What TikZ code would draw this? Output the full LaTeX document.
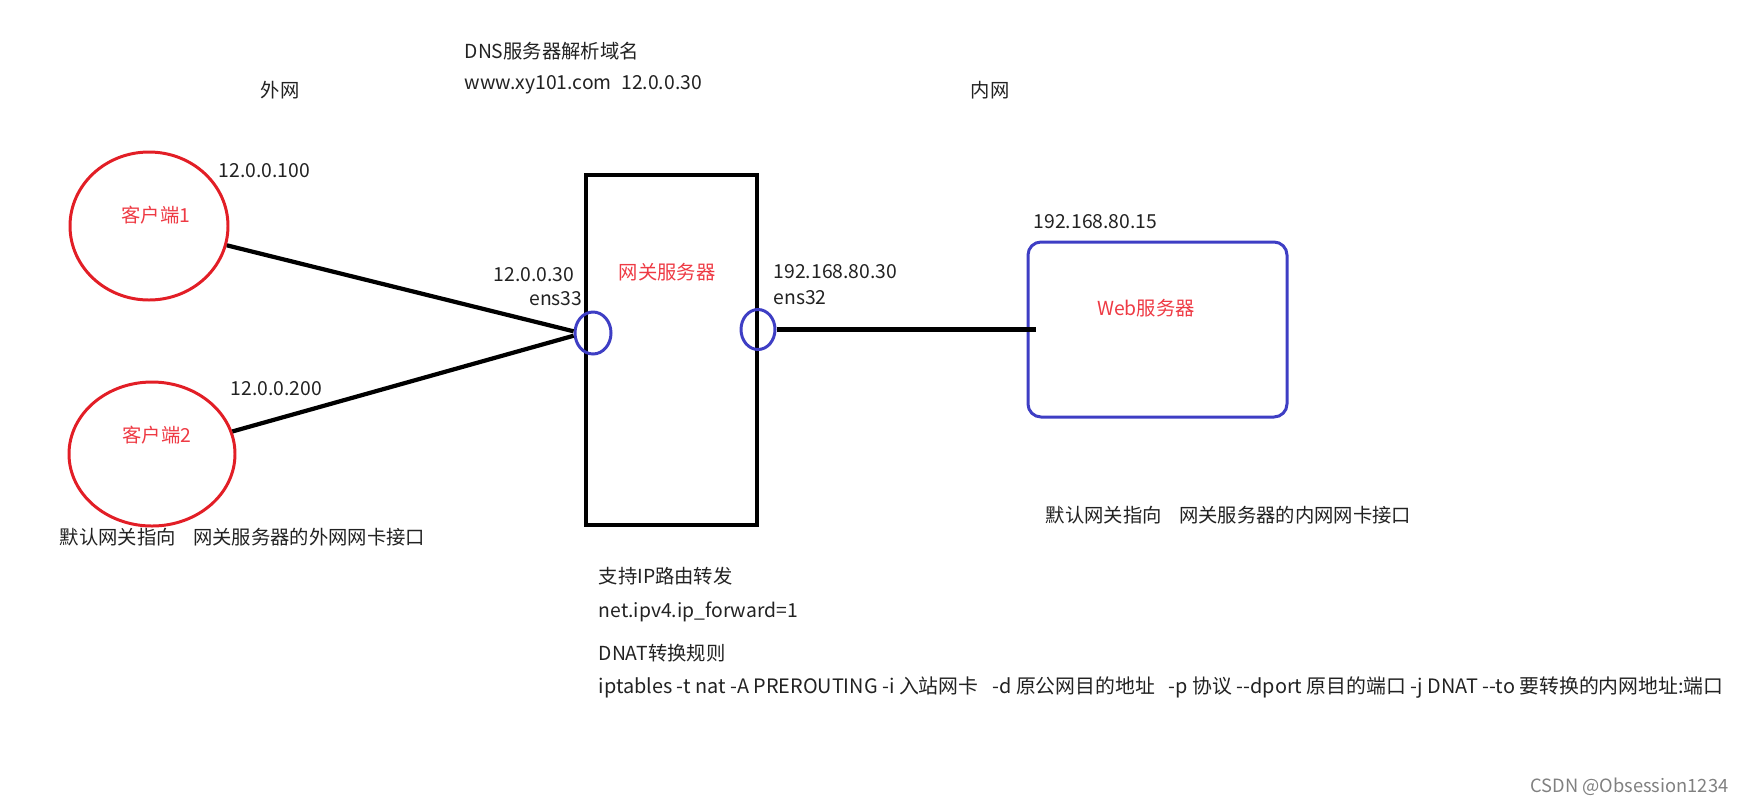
\documentclass[tikz,border=0pt]{standalone}
\usepackage{fontspec}
\setmainfont{Noto Sans CJK SC}
\usetikzlibrary{shapes.geometric}
\definecolor{clientred}{RGB}{226,30,38}
\definecolor{labelred}{RGB}{238,58,68}
\definecolor{nicblue}{RGB}{62,62,196}
\definecolor{txtgray}{RGB}{34,34,34}
\begin{document}
\begin{tikzpicture}[
    every node/.style={font=\fontsize{5.5}{6.6}\selectfont, text=txtgray, inner sep=0pt},
    txt/.style={anchor=west},
    redtxt/.style={text=labelred},
    client/.style={draw=clientred, ellipse, line width=0.85pt},
    nic/.style={draw=nicblue, ellipse, line width=0.85pt, minimum width=0.36cm, minimum height=0.42cm},
    link/.style={line width=1.2pt, black}
]
    \useasboundingbox (0,0) rectangle (17.44,8.04);

    % DNS
    \node[txt] (dns) at (4.64,7.53) {DNS服务器解析域名};
    \node[txt] (domain) at (4.64,7.19) {www.xy101.com\hspace{0.5em}12.0.0.30};

    % Zones
    \node (wan) at (2.80,7.14) {外网};
    \node (lan) at (9.90,7.14) {内网};

    % Clients
    \node[client, minimum width=1.58cm, minimum height=1.48cm] (c1) at (1.49,5.78) {};
    \node[redtxt] at (1.56,5.89) {客户端1};
    \node[txt] (ipc1) at (2.18,6.33) {12.0.0.100};
    \node[client, minimum width=1.66cm, minimum height=1.44cm] (c2) at (1.52,3.50) {};
    \node[redtxt] at (1.57,3.69) {客户端2};
    \node[txt] (ipc2) at (2.30,4.15) {12.0.0.200};
    \node[txt] (gwwan) at (0.59,2.67) {默认网关指向\hspace{0.9em}网关服务器的外网网卡接口};

    % Gateway
    \node[draw, line width=1.2pt, minimum width=1.71cm, minimum height=3.50cm] (gw) at (6.715,4.54) {};
    \node[redtxt] at (6.67,5.32) {网关服务器};
    \node[nic] (ifl) at (5.93,4.71) {};
    \node[nic, minimum width=0.34cm, minimum height=0.40cm] (ifr) at (7.58,4.745) {};
    \node[anchor=east] (ipl) at (5.75,5.29) {12.0.0.30};
    \node[anchor=east] (ensl) at (5.83,5.05) {ens33};
    \node[txt] (ipr) at (7.73,5.32) {192.168.80.30};
    \node[txt] (ensr) at (7.73,5.06) {ens32};

    % Web server
    \node[draw=nicblue, line width=0.85pt, rounded corners=0.13cm, minimum width=2.59cm, minimum height=1.75cm] (web) at (11.575,4.745) {};
    \node[redtxt] at (11.46,4.96) {Web服务器};
    \node[txt] (ipweb) at (10.33,5.82) {192.168.80.15};
    \node[txt] (gwlan) at (10.45,2.89) {默认网关指向\hspace{0.9em}网关服务器的内网网卡接口};

    % Connections
    \draw[link] (c1) -- (ifl.175);
    \draw[link] (c2) -- (ifl.188);
    \draw[link] (ifr) -- ([xshift=0.09cm]web.west);

    % Rules
    \node[txt] (fwd) at (5.98,2.28) {支持IP路由转发};
    \node[txt] (sysctl) at (5.98,1.92) {net.ipv4.ip\_forward=1};
    \node[txt] (dnat) at (5.98,1.51) {DNAT转换规则};
    \node[txt, font=\fontsize{5.65}{6.8}\selectfont] (rule) at (5.98,1.16) {iptables -t nat -A PREROUTING -i 入站网卡\hspace{0.7em}-d 原公网目的地址\hspace{0.7em}-p 协议 -{}-dport 原目的端口 -j DNAT -{}-to 要转换的内网地址:端口};

    \node[anchor=east, text=gray, font=\fontsize{5.2}{6}\selectfont] (mark) at (17.29,0.17) {CSDN @Obsession1234};
\end{tikzpicture}
\end{document}
